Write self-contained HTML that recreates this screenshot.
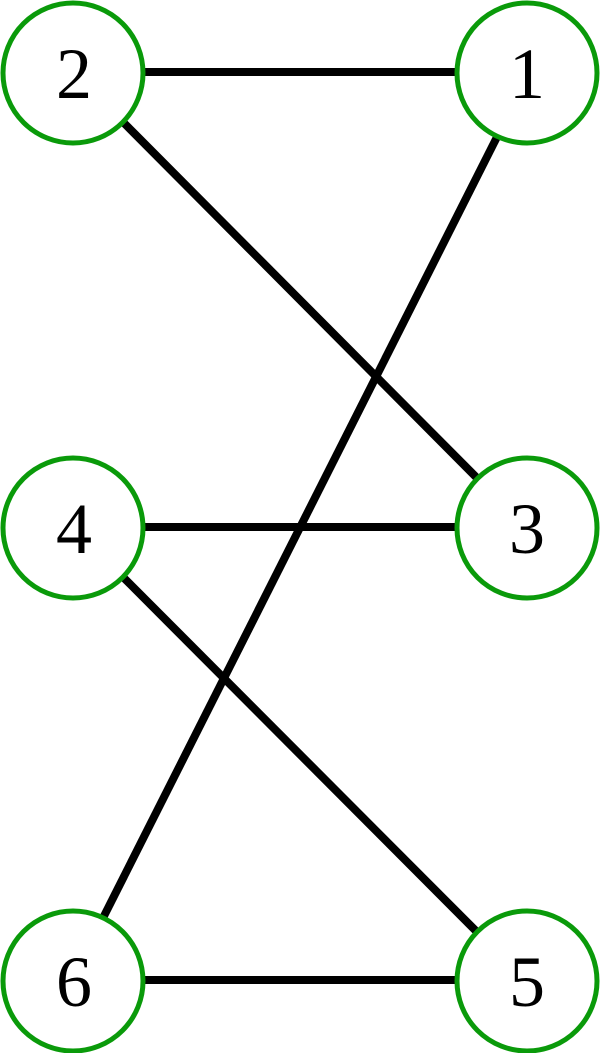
<!DOCTYPE html>
<html><head><style>body{margin:0;background:#fff}</style></head><body>
<svg width="600" height="1053" viewBox="0 0 600 1053" xmlns="http://www.w3.org/2000/svg">
<g stroke="#000" stroke-width="8">
<line x1="145" y1="72" x2="456" y2="72"/>
<line x1="123" y1="122" x2="477" y2="478"/>
<line x1="497" y1="137" x2="103" y2="918"/>
<line x1="145" y1="527" x2="456" y2="527"/>
<line x1="123" y1="577" x2="477" y2="932"/>
<line x1="145" y1="980" x2="456" y2="980"/>
</g>
<g fill="#fff" stroke="#0a9a0a" stroke-width="5">
<circle cx="73" cy="73" r="70"/><circle cx="527" cy="73" r="70"/>
<circle cx="73" cy="528" r="70"/><circle cx="527" cy="528" r="70"/>
<circle cx="73" cy="981" r="70"/><circle cx="527" cy="981" r="70"/>
</g>
<g font-family="Liberation Serif, serif" font-size="72" text-anchor="middle" fill="#000">
<text x="74" y="98">2</text><text x="527" y="98">1</text>
<text x="74" y="553">4</text><text x="527" y="553">3</text>
<text x="74" y="1006">6</text><text x="527" y="1006">5</text>
</g>
</svg>
</body></html>
